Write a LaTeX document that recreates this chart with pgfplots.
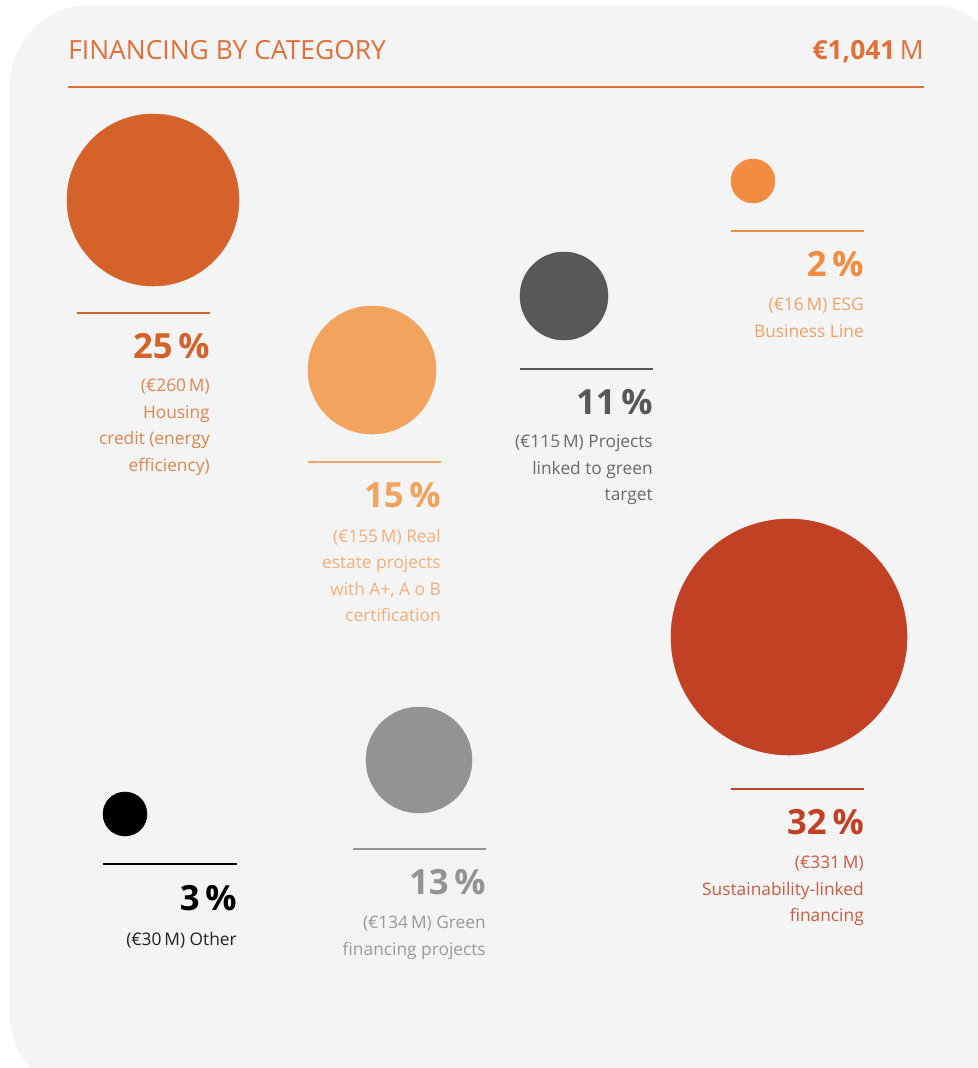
\documentclass[border=0pt]{standalone}
\usepackage{pgfplots}
\pgfplotsset{compat=1.18}
\usepackage{pgfplotstable}
\usepackage{fontspec}
\setmainfont{Open Sans}
\definecolor{bg}{HTML}{F4F4F4}
\definecolor{cA}{HTML}{D4622A}
\definecolor{cB}{HTML}{F2A35E}
\definecolor{cC}{HTML}{58585A}
\definecolor{cD}{HTML}{F28C40}
\definecolor{cE}{HTML}{C24124}
\definecolor{cF}{HTML}{939393}
\definecolor{cG}{HTML}{000000}
\definecolor{tA}{HTML}{E0854F}
\definecolor{tB}{HTML}{F4B07A}
\definecolor{tC}{HTML}{6A6A6C}
\definecolor{tD}{HTML}{F4A066}
\definecolor{tE}{HTML}{CC5A40}
\definecolor{tF}{HTML}{9A9A9A}
\definecolor{tG}{HTML}{222222}
\definecolor{head}{HTML}{E07038}

% x y (px, y downward), r = radius in px, cls = category
\pgfplotstableread{
x   y   r   cls  value
153 200 86  a    260
372 370 64  b    155
564 296 44  c    115
753 181 22  d    16
789 637 118 e    331
419 760 53  f    134
125 814 22  g    30
}\bubbles

\newcommand{\pct}[1]{\fontsize{26}{30}\selectfont\bfseries #1}
\newcommand{\desc}{\fontsize{13}{19.8}\selectfont}

\begin{document}
\begin{tikzpicture}
\begin{axis}[
  scale only axis,
  width=733.5pt, height=801pt,
  xmin=0, xmax=978, ymin=0, ymax=1068,
  y dir=reverse,
  axis lines=none,
  clip=true,
]
% background card
\fill[bg, rounded corners=60pt] (axis cs:10,5) rectangle (axis cs:1010,1095);

% header
\node[anchor=base west, text=head, inner sep=0pt, font=\fontsize{19.8}{24}\selectfont] at (axis cs:68,59) {FINANCING BY CATEGORY};
\node[anchor=base east, text=head, inner sep=0pt, font=\fontsize{19.8}{24}\selectfont] at (axis cs:924,59) {\textbf{€1,041}\,M};
\draw[head, line width=2.2pt] (axis cs:68,87) -- (axis cs:924,87);

% bubbles
\addplot[
  scatter, only marks,
  point meta=explicit symbolic,
  scatter/classes={
    a={mark=*, draw=cA, fill=cA},
    b={mark=*, draw=cB, fill=cB},
    c={mark=*, draw=cC, fill=cC},
    d={mark=*, draw=cD, fill=cD},
    e={mark=*, draw=cE, fill=cE},
    f={mark=*, draw=cF, fill=cF},
    g={mark=*, draw=cG, fill=cG}},
  visualization depends on={\thisrow{r} \as \rad},
  scatter/@pre marker code/.append style={/tikz/mark size=0.75*\rad},
] table[x=x, y=y, meta=cls] {\bubbles};

% rules
\draw[cA, line width=2.2pt] (axis cs:77,313) -- (axis cs:210,313);
\draw[cB, line width=2.2pt] (axis cs:308,462) -- (axis cs:441,462);
\draw[cC, line width=2.2pt] (axis cs:520,369) -- (axis cs:653,369);
\draw[cD, line width=2.2pt] (axis cs:731,231) -- (axis cs:864,231);
\draw[cE, line width=2.2pt] (axis cs:731,789) -- (axis cs:864,789);
\draw[cF, line width=2.2pt] (axis cs:353,849) -- (axis cs:486,849);
\draw[cG, line width=2.2pt] (axis cs:103,864) -- (axis cs:237,864);

% percentages
\node[anchor=base east, inner sep=0pt, text=cA] at (axis cs:210,358) {\pct{25\,\%}};
\node[anchor=base east, inner sep=0pt, text=cB] at (axis cs:441,507) {\pct{15\,\%}};
\node[anchor=base east, inner sep=0pt, text=cC] at (axis cs:653,414) {\pct{11\,\%}};
\node[anchor=base east, inner sep=0pt, text=cD] at (axis cs:864,276) {\pct{2\,\%}};
\node[anchor=base east, inner sep=0pt, text=cE] at (axis cs:864,834) {\pct{32\,\%}};
\node[anchor=base east, inner sep=0pt, text=cF] at (axis cs:486,894) {\pct{13\,\%}};
\node[anchor=base east, inner sep=0pt, text=cG] at (axis cs:237,910) {\pct{3\,\%}};

% descriptions
\node[anchor=north east, inner sep=0pt, text=tA, align=right, font=\desc] at (axis cs:210,379) {(€260\,M)\\Housing\\credit (energy\\efficiency)};
\node[anchor=north east, inner sep=0pt, text=tB, align=right, font=\desc] at (axis cs:441,529) {(€155\,M) Real\\estate projects\\with A+, A o B\\certification};
\node[anchor=north east, inner sep=0pt, text=tC, align=right, font=\desc] at (axis cs:653,435) {(€115\,M) Projects\\linked to green\\target};
\node[anchor=north east, inner sep=0pt, text=tD, align=right, font=\desc] at (axis cs:864,298) {(€16\,M) ESG\\Business Line};
\node[anchor=north east, inner sep=0pt, text=tE, align=right, font=\desc] at (axis cs:864,856) {(€331\,M)\\Sustainability-linked\\financing};
\node[anchor=north east, inner sep=0pt, text=tF, align=right, font=\desc] at (axis cs:486,916) {(€134\,M) Green\\financing projects};
\node[anchor=north east, inner sep=0pt, text=tG, align=right, font=\desc] at (axis cs:237,932) {(€30\,M) Other};
\end{axis}
\pgfresetboundingbox
\useasboundingbox (current axis.south west) rectangle (current axis.north east);
\end{tikzpicture}
\end{document}
